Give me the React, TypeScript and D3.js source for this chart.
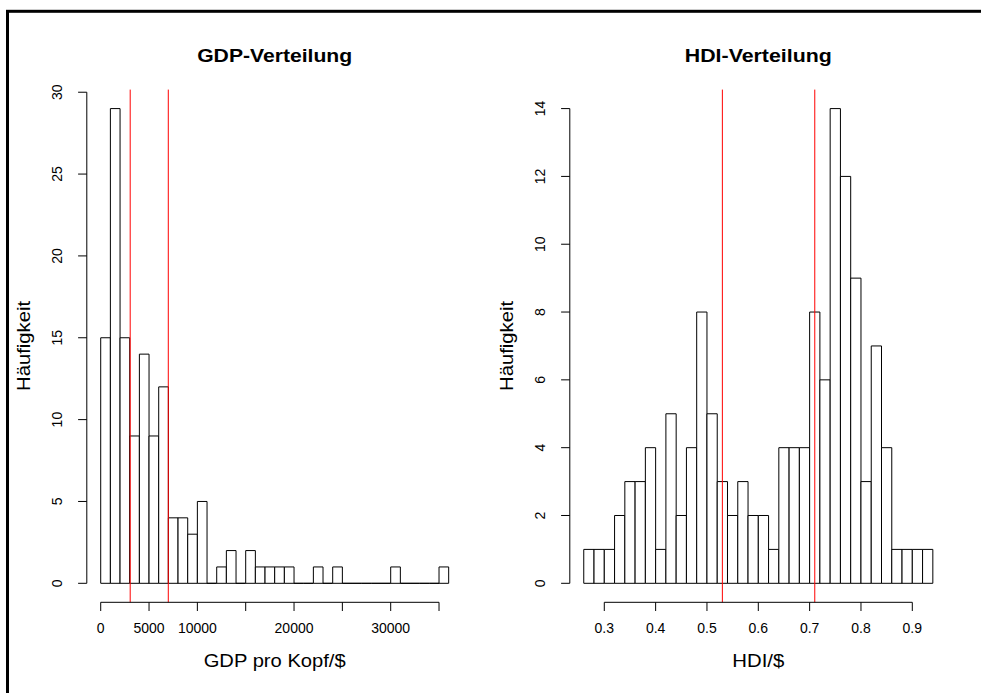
import * as React from "react"
import * as d3 from "d3"

const WIDTH = 981
const HEIGHT = 693

// GDP histogram: bins of 1000 $, starting at 0
const gdpBinWidth = 1000
const gdpCounts = [
  15, 29, 15, 9, 14, 9, 12, 4, 4, 3, 5, 0, 1, 2, 0, 2, 1, 1, 1, 1, 0, 0, 1, 0, 1, 0, 0, 0, 0, 0, 1,
  0, 0, 0, 0, 1,
]
const gdpTicks = [0, 5000, 10000, 15000, 20000, 25000, 30000, 35000]
const gdpTickLabels = ["0", "5000", "10000", "", "20000", "", "30000", ""]
const gdpYTicks = [0, 5, 10, 15, 20, 25, 30]
const gdpMarkers = [3050, 6990]

// HDI histogram: bins of 0.02, starting at 0.26
const hdiStart = 0.26
const hdiBinWidth = 0.02
const hdiCounts = [
  1, 1, 1, 2, 3, 3, 4, 1, 5, 2, 4, 8, 5, 3, 2, 3, 2, 2, 1, 4, 4, 4, 8, 6, 14, 12, 9, 3, 7, 4, 1, 1, 1,
  1,
]
const hdiTicks = [0.3, 0.4, 0.5, 0.6, 0.7, 0.8, 0.9]
const hdiTickLabels = ["0.3", "0.4", "0.5", "0.6", "0.7", "0.8", "0.9"]
const hdiYTicks = [0, 2, 4, 6, 8, 10, 12, 14]
const hdiMarkers = [0.53, 0.71]

const FONT = "'Liberation Sans', Arial, Helvetica, sans-serif"
const PLOT_TOP = 89.6
const PLOT_BOTTOM = 602.3
const TICK = 8.7

function Histogram(props) {
  const { left, right, start, binWidth, counts, xTicks, xTickLabels, yTicks, markers, title, xLabel, titleLen, xLabelLen } = props

  const lo = start
  const hi = start + binWidth * counts.length
  const padX = (hi - lo) * 0.04
  const maxY = d3.max(counts)
  const padY = maxY * 0.04

  const x = d3.scaleLinear().domain([lo - padX, hi + padX]).range([left, right])
  const y = d3.scaleLinear().domain([-padY, maxY + padY]).range([PLOT_BOTTOM, PLOT_TOP])
  const cx = (left + right) / 2
  const cy = (PLOT_TOP + PLOT_BOTTOM) / 2

  return (
    <g>
      <text x={cx} y={61.7} textAnchor="middle" fontFamily={FONT} fontWeight="bold" fontSize={18.5}
        textLength={titleLen} lengthAdjust="spacingAndGlyphs">
        {title}
      </text>

      {counts.map((c, i) => {
        const x0 = x(start + i * binWidth)
        const x1 = x(start + (i + 1) * binWidth)
        const p = d3.path()
        p.moveTo(x0, y(0))
        p.lineTo(x0, y(c))
        p.lineTo(x1, y(c))
        p.lineTo(x1, y(0))
        p.closePath()
        return <path key={i} d={p.toString()} fill="white" stroke="black" strokeWidth={1} />
      })}

      {markers.map((m, i) => (
        <line key={i} x1={x(m)} x2={x(m)} y1={PLOT_TOP} y2={PLOT_BOTTOM} stroke="red" strokeWidth={1} />
      ))}

      {/* x axis */}
      <line x1={x(xTicks[0])} x2={x(xTicks[xTicks.length - 1])} y1={PLOT_BOTTOM} y2={PLOT_BOTTOM} stroke="black" />
      {xTicks.map((t, i) => (
        <g key={i}>
          <line x1={x(t)} x2={x(t)} y1={PLOT_BOTTOM} y2={PLOT_BOTTOM + TICK} stroke="black" />
          <text x={x(t)} y={633.3} textAnchor="middle" fontFamily={FONT} fontSize={14}>
            {xTickLabels[i]}
          </text>
        </g>
      ))}
      <text x={cx} y={666.7} textAnchor="middle" fontFamily={FONT} fontSize={18.5}
        textLength={xLabelLen} lengthAdjust="spacingAndGlyphs">
        {xLabel}
      </text>

      {/* y axis */}
      <line x1={left} x2={left} y1={y(yTicks[0])} y2={y(yTicks[yTicks.length - 1])} stroke="black" />
      {yTicks.map((t, i) => (
        <g key={i}>
          <line x1={left} x2={left - TICK} y1={y(t)} y2={y(t)} stroke="black" />
          <text transform={`translate(${left - 24.5},${y(t)}) rotate(-90)`} textAnchor="middle"
            fontFamily={FONT} fontSize={14}>
            {t}
          </text>
        </g>
      ))}
      <text transform={`translate(${left - 56.5},${cy}) rotate(-90)`} textAnchor="middle"
        fontFamily={FONT} fontSize={18.5} textLength={90} lengthAdjust="spacingAndGlyphs">
        Häufigkeit
      </text>
    </g>
  )
}

export default function App() {
  return (
    <svg width={WIDTH} height={HEIGHT} style={{ position: "absolute", left: 0, top: 0, background: "white" }}>
      <rect x={7.5} y={11.3} width={1000} height={700} fill="none" stroke="black" strokeWidth={3} />
      <Histogram left={86.8} right={462.6} start={0} binWidth={gdpBinWidth} counts={gdpCounts}
        xTicks={gdpTicks} xTickLabels={gdpTickLabels} yTicks={gdpYTicks} markers={gdpMarkers}
        title="GDP-Verteilung" xLabel="GDP pro Kopf/$" titleLen={155} xLabelLen={142} />
      <Histogram left={569.8} right={946.8} start={hdiStart} binWidth={hdiBinWidth} counts={hdiCounts}
        xTicks={hdiTicks} xTickLabels={hdiTickLabels} yTicks={hdiYTicks} markers={hdiMarkers}
        title="HDI-Verteilung" xLabel="HDI/$" titleLen={147} xLabelLen={52} />
    </svg>
  )
}
